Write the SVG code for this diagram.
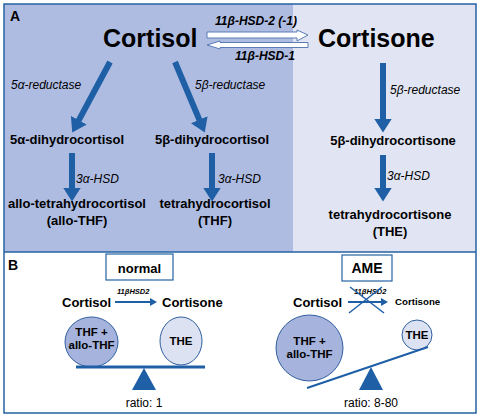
<svg xmlns="http://www.w3.org/2000/svg" width="480" height="417" viewBox="0 0 480 417">
<style>
text{font-family:"Liberation Sans",Arial,sans-serif;fill:#000}
.big{font-size:25px;font-weight:bold}
.name{font-size:13px;font-weight:bold;text-anchor:middle}
.enz{font-size:12px;font-style:italic}
.hsd{font-size:12px;font-style:italic;font-weight:bold}
.lbl{font-size:14px;font-weight:bold}
.thick{stroke:#1f5fa6;stroke-width:6;fill:none}
.thin{stroke:#1f5fa6;stroke-width:2;fill:none}
.hollow{fill:#fff;stroke:#5a7db5;stroke-width:1}
</style>
<defs>
<marker id="ah" viewBox="0 0 14 18" refX="0.5" refY="9" markerWidth="14" markerHeight="18" markerUnits="userSpaceOnUse" orient="auto">
<path d="M0,0 L14,9 L0,18 Z" fill="#1f5fa6"/>
</marker>
<marker id="ahs" viewBox="0 0 7 8" refX="1" refY="4" markerWidth="7" markerHeight="8" markerUnits="userSpaceOnUse" orient="auto">
<path d="M0,0 L7,4 L0,8 Z" fill="#1f5fa6"/>
</marker>
</defs>

<!-- panels -->
<rect x="4" y="4" width="289" height="248" fill="#afbce2"/>
<rect x="293" y="4" width="183" height="248" fill="#e1e5f3"/>
<rect x="4" y="252" width="472" height="161" fill="#fff"/>
<rect x="4" y="4" width="472" height="409" fill="none" stroke="#2563a3" stroke-width="1.5"/>
<line x1="4" y1="252" x2="476" y2="252" stroke="#2563a3" stroke-width="1.5"/>
<text x="10" y="21" class="lbl">A</text>
<text x="8" y="270" class="lbl">B</text>

<g id="connectors">
<line x1="110" y1="62" x2="78.6" y2="120.6" class="thick" marker-end="url(#ah)"/>
<line x1="175" y1="62" x2="199.5" y2="120.1" class="thick" marker-end="url(#ah)"/>
<line x1="383" y1="63" x2="383" y2="119" class="thick" marker-end="url(#ah)"/>
<line x1="72" y1="153" x2="72" y2="188" class="thick" marker-end="url(#ah)"/>
<line x1="212" y1="153" x2="212" y2="188" class="thick" marker-end="url(#ah)"/>
<line x1="383" y1="155" x2="383" y2="188" class="thick" marker-end="url(#ah)"/>
<path d="M207,32 L297,32 L297,30 L308,35 L297,41 L297,38 L207,38 Z" class="hollow"/>
<path d="M308,42.5 L220,42.5 L220,41 L207,45 L220,49 L220,47.5 L308,47.5 Z" class="hollow"/>
<line x1="115" y1="302" x2="151" y2="302" class="thin" marker-end="url(#ahs)"/>
<line x1="348" y1="302" x2="382" y2="302" class="thin" marker-end="url(#ahs)"/>
</g>

<text x="215" y="25" class="hsd">11β-HSD-2 (-1)</text>
<text x="235" y="60" class="hsd">11β-HSD-1</text>
<text x="11" y="89" class="enz">5α-reductase</text>
<text x="195" y="89" class="enz">5β-reductase</text>
<text x="390" y="94" class="enz">5β-reductase</text>
<text x="76" y="183" class="enz">3α-HSD</text>
<text x="218" y="183" class="enz">3α-HSD</text>
<text x="387" y="180" class="enz">3α-HSD</text>

<g id="cortisol"><text x="103" y="47" class="big">Cortisol</text></g>
<g id="cortisone"><text x="318" y="47" class="big">Cortisone</text></g>
<g id="dihydrocortisol5a"><text x="67" y="144" class="name">5α-dihydrocortisol</text></g>
<g id="dihydrocortisol5b"><text x="212" y="144" class="name">5β-dihydrocortisol</text></g>
<g id="dihydrocortisone5b"><text x="393" y="145" class="name">5β-dihydrocortisone</text></g>
<g id="allothf"><text x="77" y="208" class="name">allo-tetrahydrocortisol</text><text x="77" y="225" class="name">(allo-THF)</text></g>
<g id="thf"><text x="215" y="208" class="name">tetrahydrocortisol</text><text x="215" y="225" class="name">(THF)</text></g>
<g id="the"><text x="390" y="219" class="name">tetrahydrocortisone</text><text x="390" y="236" class="name">(THE)</text></g>

<!-- Panel B normal -->
<g id="normal">
<rect x="106" y="254" width="67" height="26" fill="#fff" stroke="#2563a3" stroke-width="1.2"/>
<text x="139.5" y="273" class="name">normal</text>
</g>
<g id="b-normal-reaction">
<text x="62" y="307" style="font-size:13px;font-weight:bold">Cortisol</text>
<text x="117" y="294" style="font-size:7.5px;font-weight:bold;font-style:italic">11βHSD2</text>
<text x="162" y="307" style="font-size:13px;font-weight:bold">Cortisone</text>
</g>
<g id="b-normal-balance">
<ellipse cx="91.5" cy="342" rx="26.5" ry="25" fill="#a6b3dc" stroke="#2f5f9f" stroke-width="1"/>
<text x="91.5" y="336" class="name" style="font-size:11.5px">THF +</text>
<text x="91.5" y="349" class="name" style="font-size:11.5px">allo-THF</text>
<ellipse cx="181" cy="341" rx="21" ry="24" fill="#dde2f2" stroke="#2f5f9f" stroke-width="1"/>
<text x="181" y="345" class="name" style="font-size:11.5px">THE</text>
<line x1="76" y1="367" x2="205" y2="367" stroke="#1f5fa6" stroke-width="3"/>
<path d="M144,368 L156,390 L132,390 Z" fill="#1f5fa6"/>
<text x="144" y="407" style="font-size:12px;text-anchor:middle">ratio: 1</text>
</g>

<!-- Panel B AME -->
<g id="ame">
<rect x="342" y="255" width="50" height="26" fill="#fff" stroke="#2563a3" stroke-width="1.2"/>
<text x="367" y="273" class="name" style="font-size:14px">AME</text>
</g>
<g id="b-ame-reaction">
<text x="293" y="307" style="font-size:13px;font-weight:bold">Cortisol</text>
<text x="354" y="294" style="font-size:7.5px;font-weight:bold;font-style:italic">11βHSD2</text>
<line x1="350" y1="287" x2="384" y2="313" stroke="#1f5fa6" stroke-width="1.5"/>
<line x1="349" y1="313" x2="382" y2="287" stroke="#1f5fa6" stroke-width="1.5"/>
<text x="395" y="305" style="font-size:9.7px;font-weight:bold">Cortisone</text>
</g>
<g id="b-ame-balance">
<ellipse cx="309.5" cy="348" rx="33.5" ry="33" fill="#a6b3dc" stroke="#2f5f9f" stroke-width="1"/>
<text x="309.5" y="345" class="name" style="font-size:11.5px">THF +</text>
<text x="309.5" y="358" class="name" style="font-size:11.5px">allo-THF</text>
<circle cx="417" cy="335" r="15" fill="#dde2f2" stroke="#2f5f9f" stroke-width="1"/>
<text x="417" y="339" class="name" style="font-size:11.5px">THE</text>
<line x1="307" y1="388" x2="428" y2="347" stroke="#1f5fa6" stroke-width="2"/>
<path d="M371,367 L383,390 L359,390 Z" fill="#1f5fa6"/>
<text x="371" y="407" style="font-size:12px;text-anchor:middle">ratio: 8-80</text>
</g>
</svg>
